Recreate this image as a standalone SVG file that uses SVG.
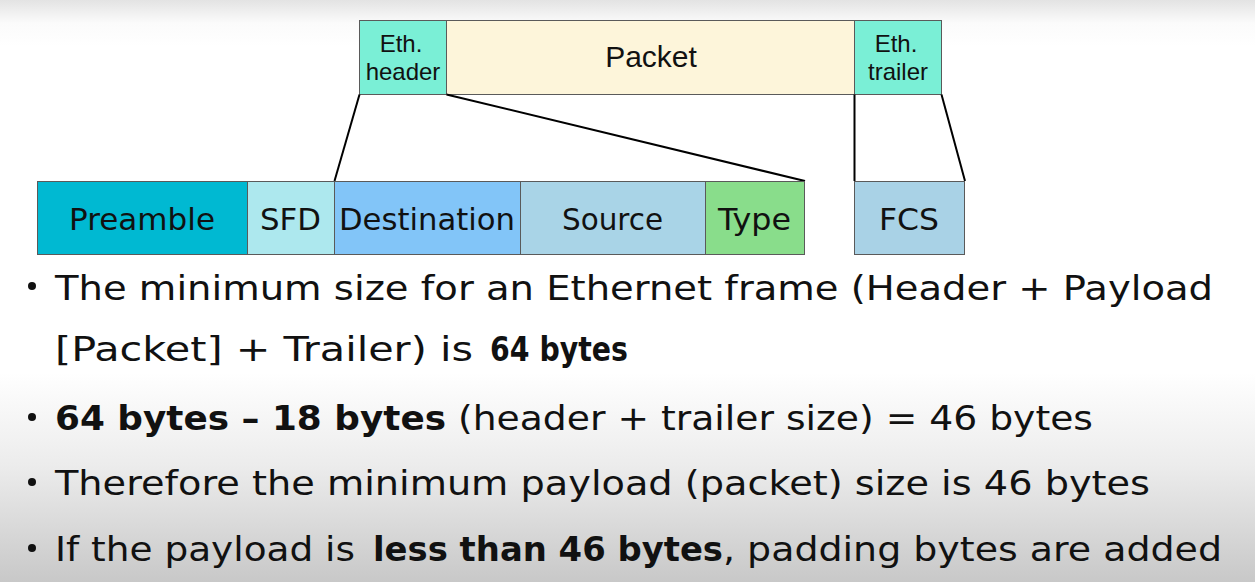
<svg xmlns="http://www.w3.org/2000/svg" width="1255" height="582" viewBox="0 0 1255 582">
<defs>
<linearGradient id="bg" x1="0" y1="0" x2="0" y2="1">
<stop offset="0" stop-color="#e3e3e3"/>
<stop offset="0.04" stop-color="#fbfbfb"/>
<stop offset="0.08" stop-color="#ffffff"/>
<stop offset="0.64" stop-color="#ffffff"/>
<stop offset="0.8" stop-color="#ececec"/>
<stop offset="1" stop-color="#c8c8c8"/>
</linearGradient>
</defs>
<style>
.box{stroke:#5a5a5a;stroke-width:1}
.top{font-family:"Liberation Sans",Arial,sans-serif;fill:#111;text-anchor:middle}
.fld{font-family:"DejaVu Sans","Noto Sans",sans-serif;font-size:30px;fill:#111}
.body{font-family:"DejaVu Sans","Noto Sans",sans-serif;font-size:34px;fill:#111}
.b{font-weight:bold}
.conn{stroke:#000;stroke-width:2;fill:none}
.dot{fill:#111}
</style>
<rect x="0" y="0" width="1255" height="582" fill="url(#bg)"/>

<g id="eth-header">
<rect class="box" x="359.5" y="20.5" width="87" height="74" fill="#7aefd6"/>
<text class="top" x="401" y="52" font-size="24">Eth.</text>
<text class="top" x="403" y="80" font-size="24">header</text>
</g>
<g id="packet">
<rect class="box" x="446.5" y="20.5" width="408" height="74" fill="#fdf5da"/>
<text class="top" x="651" y="67" font-size="30">Packet</text>
</g>
<g id="eth-trailer">
<rect class="box" x="854.5" y="20.5" width="87" height="74" fill="#7aefd6"/>
<text class="top" x="896" y="52" font-size="24">Eth.</text>
<text class="top" x="898" y="80" font-size="24">trailer</text>
</g>

<g id="connectors">
<line class="conn" x1="359.5" y1="94.5" x2="334.5" y2="181"/>
<line class="conn" x1="446.5" y1="94.5" x2="805" y2="181"/>
<line class="conn" x1="854.5" y1="94.5" x2="854.5" y2="181"/>
<line class="conn" x1="941.5" y1="94.5" x2="965" y2="181"/>
</g>

<g id="preamble">
<rect class="box" x="37.5" y="181.5" width="210" height="73" fill="#00b9d2"/>
<text class="fld" x="69" y="230" textLength="146" lengthAdjust="spacingAndGlyphs">Preamble</text>
</g>
<g id="sfd">
<rect class="box" x="247.5" y="181.5" width="87" height="73" fill="#ade8ee"/>
<text class="fld" x="260" y="230" textLength="61" lengthAdjust="spacingAndGlyphs">SFD</text>
</g>
<g id="destination">
<rect class="box" x="334.5" y="181.5" width="186" height="73" fill="#82c5f8"/>
<text class="fld" x="339" y="230" textLength="176" lengthAdjust="spacingAndGlyphs">Destination</text>
</g>
<g id="source">
<rect class="box" x="520.5" y="181.5" width="185" height="73" fill="#a9d4e7"/>
<text class="fld" x="562" y="230" textLength="101" lengthAdjust="spacingAndGlyphs">Source</text>
</g>
<g id="type">
<rect class="box" x="705.5" y="181.5" width="99" height="73" fill="#89dd8b"/>
<text class="fld" x="718" y="230" textLength="73" lengthAdjust="spacingAndGlyphs">Type</text>
</g>
<g id="fcs">
<rect class="box" x="854.5" y="181.5" width="110" height="73" fill="#a9d2e6"/>
<text class="fld" x="879" y="230" textLength="60" lengthAdjust="spacingAndGlyphs">FCS</text>
</g>

<g id="bullets">
<circle class="dot" cx="32" cy="286" r="4"/>
<text class="body" x="55" y="300" textLength="1158" lengthAdjust="spacingAndGlyphs">The minimum size for an Ethernet frame (Header + Payload</text>
<text class="body" x="55" y="361" textLength="418" lengthAdjust="spacingAndGlyphs">[Packet] + Trailer) is</text>
<text class="body b" x="490" y="361" textLength="138" lengthAdjust="spacingAndGlyphs">64 bytes</text>

<circle class="dot" cx="32" cy="417" r="4"/>
<text class="body b" x="55" y="430" textLength="391" lengthAdjust="spacingAndGlyphs">64 bytes – 18 bytes</text>
<text class="body" x="458" y="430" textLength="635" lengthAdjust="spacingAndGlyphs">(header + trailer size) = 46 bytes</text>

<circle class="dot" cx="32" cy="482" r="4"/>
<text class="body" x="55" y="495" textLength="1095" lengthAdjust="spacingAndGlyphs">Therefore the minimum payload (packet) size is 46 bytes</text>

<circle class="dot" cx="32" cy="548" r="4"/>
<text class="body" x="55" y="561" textLength="300" lengthAdjust="spacingAndGlyphs">If the payload is</text>
<text class="body b" x="373" y="561" textLength="350" lengthAdjust="spacingAndGlyphs">less than 46 bytes</text>
<text class="body" x="723" y="561" textLength="499" lengthAdjust="spacingAndGlyphs">, padding bytes are added</text>
</g>
</svg>
